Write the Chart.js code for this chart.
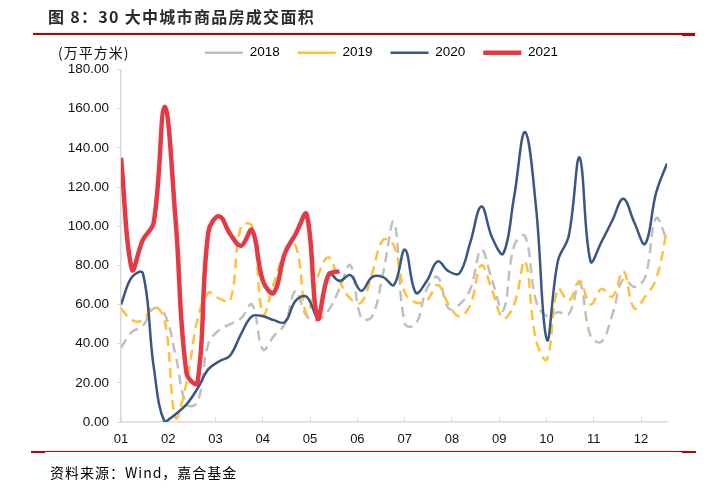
<!DOCTYPE html>
<html>
<head>
<meta charset="utf-8">
<script src="https://cdn.jsdelivr.net/npm/chart.js@4"></script>
<style>
  html, body { margin: 0; padding: 0; background: #fff; }
  #wrap { position: relative; width: 724px; height: 493px; overflow: hidden; background: #fff; }
  #c { position: absolute; left: 0; top: 0; }
  .abs { position: absolute; white-space: nowrap; }
  #title { left: 48px; top: 6px; font: bold 16px/20px "Noto Sans CJK SC", sans-serif; color: #2b2b2b; letter-spacing: 1.3px; }
  #unit { left: 58px; top: 43px; font: 14px/18px "Noto Sans CJK SC", sans-serif; color: #111; letter-spacing: 1px; }
  #src { left: 50px; top: 462px; font: 14px/20px "Noto Sans CJK SC", sans-serif; color: #000; letter-spacing: 1px; }
  .bar { position: absolute; background: #C00000; }
</style>
</head>
<body>
<div id="wrap">
  <canvas id="c" width="724" height="493"></canvas>
  <div class="abs" id="title">图 8：30 大中城市商品房成交面积</div>
  <div class="bar" style="left:33px;top:33px;width:662px;height:2px;"></div>
  <div class="bar" style="left:682px;top:33px;width:13px;height:3px;"></div>
  <div class="abs" id="unit">(万平方米)</div>
  <div class="bar" style="left:31px;top:451px;width:665px;height:1px;"></div>
  <div class="bar" style="left:31px;top:451px;width:14px;height:2px;"></div>
  <div class="bar" style="left:682px;top:451px;width:14px;height:2px;"></div>
  <div class="abs" id="src">资料来源：Wind，嘉合基金</div>
</div>
<script>
// ---- data (weekly values, 万平方米) ----
const seriesNames = ['2018', '2019', '2020', '2021'];
const monthLabels = ['01','02','03','04','05','06','07','08','09','10','11','12'];
const yTicks = [0, 20, 40, 60, 80, 100, 120, 140, 160, 180];

const v2018 = [38,46,49,58,55,34,9,10,40,47,50,53,60,37,44,50,67,54,52,57,68,80,53,54,76,102,50,50,68,74,58,60,68,88,72,57,90,95,62,54,56,55,71,44,41,55,73,69,74,104,93];
const v2019 = [58,52,52,59,52,2,20,52,66,63,62,100,100,55,71,86,90,55,74,84,72,63,61,76,93,90,66,61,62,70,60,54,60,80,67,53,60,82,42,32,68,62,72,60,68,64,77,58,64,73,98];
const v2020 = [60,74,76,28,0,4,9,17,27,31,34,45,54,54,52,51,62,64,54,76,72,75,67,74,74,70,88,66,72,82,77,76,92,110,94,86,115,148,110,42,82,95,135,82,92,103,114,102,91,117,132];
const v2021 = [135,78,93,102,161,103,25,20,97,105,96,90,98,72,66,86,96,106,53,75,77];

// ---- layout helpers ----
const WEEK = 0.231;               // one week expressed in months on the x axis
const toPts = arr => arr.map((v, i) => ({ x: i * WEEK, y: v }));
const X_MAX = (v2018.length - 1) * WEEK;

const styles = [
  { color: '#BFBFBF', width: 2.5, dash: [10, 6], order: 4 },
  { color: '#FFC13B', width: 2.5, dash: [10, 6], order: 3 },
  { color: '#3A5683', width: 2.5, dash: [],      order: 2 },
  { color: '#E63946', width: 4.5, dash: [],      order: 1 }
];
const values = [v2018, v2019, v2020, v2021];

const datasets = seriesNames.map((name, k) => ({
  label: name,
  data: toPts(values[k]),
  borderColor: styles[k].color,
  backgroundColor: styles[k].color,
  borderWidth: styles[k].width,
  borderDash: styles[k].dash,
  order: styles[k].order,
  pointRadius: 0,
  pointHoverRadius: 0,
  tension: 0.4,
  fill: false
}));

const FONT = "'Liberation Sans', Arial, sans-serif";

// shift the legend box so that its items sit where the reference has them
const legendShift = {
  id: 'legendShift',
  afterLayout(chart) {
    if (chart.legend) { chart.legend.left = 96; }
  }
};

new Chart(document.getElementById('c'), {
  type: 'line',
  data: { datasets },
  plugins: [legendShift],
  options: {
    responsive: false,
    devicePixelRatio: 1,
    animation: false,
    layout: { padding: { left: 40, right: 57, top: 28, bottom: 40 } },
    plugins: {
      tooltip: { enabled: false },
      legend: {
        position: 'top',
        align: 'center',
        labels: {
          usePointStyle: true,
          pointStyle: 'line',
          pointStyleWidth: 38,
          padding: 18,
          color: '#000',
          font: { family: FONT, size: 13.5 },
          sort: (a, b) => a.datasetIndex - b.datasetIndex
        }
      }
    },
    scales: {
      x: {
        type: 'linear',
        min: 0,
        max: X_MAX,
        afterFit: s => { s.height = 31; },
        afterBuildTicks: s => { s.ticks = monthLabels.map((_, k) => ({ value: k })); },
        border: { display: true, color: '#D9D9D9', width: 1.5 },
        grid: { drawOnChartArea: false, drawTicks: true, tickLength: -5, color: '#D9D9D9', lineWidth: 1 },
        ticks: {
          padding: 15,
          maxRotation: 0,
          autoSkip: false,
          color: '#111',
          font: { family: FONT, size: 13 },
          callback: v => monthLabels[Math.round(v)]
        }
      },
      y: {
        min: 0,
        max: 180,
        afterFit: s => { s.width = 81; },
        afterBuildTicks: s => { s.ticks = yTicks.map(v => ({ value: v })); },
        border: { display: true, color: '#D9D9D9', width: 1.5 },
        grid: { drawOnChartArea: false, drawTicks: true, tickLength: 4, color: '#D9D9D9', lineWidth: 1 },
        ticks: {
          padding: 8,
          color: '#111',
          font: { family: FONT, size: 13.5 },
          callback: v => Number(v).toFixed(2)
        }
      }
    }
  }
});
</script>
</body>
</html>
